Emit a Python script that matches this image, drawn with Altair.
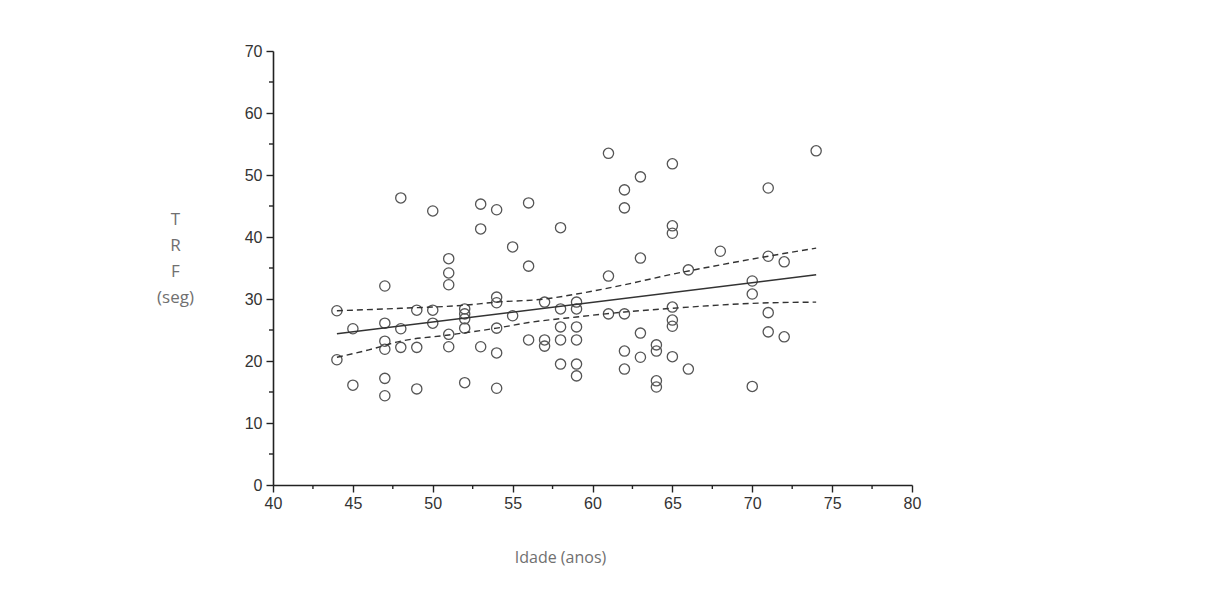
import altair as alt
import pandas as pd

# Scatter data
idade = [48, 47, 44, 45, 47, 48, 47, 47, 48, 44, 45, 47, 47,
         50, 53, 54, 56, 53, 58, 55, 51, 51, 56, 51, 54, 54,
         49, 50, 52, 52, 52, 52, 50, 51, 54, 55, 57, 58, 59, 59,
         49, 51, 53, 54, 56, 57, 57, 58, 59, 58, 59, 58, 59, 59,
         49, 52, 54,
         61, 65, 63, 62, 62, 74, 71, 65, 65, 63, 68, 71, 72, 66, 61,
         70, 70, 61, 62, 65, 65, 65, 71, 63, 71, 72, 62, 63, 64, 64,
         65, 62, 66, 64, 64, 70]
trf = [46.3, 32.1, 28.1, 25.2, 26.1, 25.2, 23.2, 21.9, 22.2, 20.2, 16.1, 17.2, 14.4,
       44.2, 45.3, 44.4, 45.5, 41.3, 41.5, 38.4, 36.5, 34.2, 35.3, 32.3, 30.3, 29.4,
       28.2, 28.2, 28.4, 27.6, 26.8, 25.3, 26.1, 24.3, 25.3, 27.3, 29.5, 28.4, 29.5, 28.4,
       22.2, 22.3, 22.3, 21.3, 23.4, 23.4, 22.4, 23.4, 23.4, 25.5, 25.5, 19.5, 19.5, 17.6,
       15.5, 16.5, 15.6,
       53.5, 51.8, 49.7, 47.6, 44.7, 53.9, 47.9, 41.8, 40.6, 36.6, 37.7, 36.9, 36.0, 34.7, 33.7,
       32.9, 30.8, 27.6, 27.6, 28.7, 26.6, 25.6, 27.8, 24.5, 24.7, 23.9, 21.6, 20.6, 22.6, 21.6,
       20.7, 18.7, 18.7, 16.8, 15.8, 15.9]

# Regression line (end points)
fit_x = [44, 74]
fit_y = [24.4, 33.9]

# Confidence band curves
upper_x = [44, 48, 52, 54, 57, 59, 62, 65, 68, 71, 74]
upper_y = [28.1, 28.5, 29.0, 29.5, 30.0, 30.8, 32.3, 34.0, 35.5, 36.9, 38.2]
lower_x = [44, 46, 48, 51, 54, 56, 59, 62, 65, 70, 74]
lower_y = [20.6, 21.8, 23.2, 24.2, 25.3, 26.2, 27.1, 27.9, 28.5, 29.3, 29.5]

x_major = [40, 45, 50, 55, 60, 65, 70, 75, 80]
x_minor = [42.5, 47.5, 52.5, 57.5, 62.5, 67.5, 72.5, 77.5]
y_major = [0, 10, 20, 30, 40, 50, 60, 70]
y_minor = [5, 15, 25, 35, 45, 55, 65]

W, H = 639, 434

pts = pd.DataFrame({"idade": idade, "trf": trf})
fit = pd.DataFrame({"idade": fit_x, "trf": fit_y})
up = pd.DataFrame({"idade": upper_x, "trf": upper_y})
lo = pd.DataFrame({"idade": lower_x, "trf": lower_y})
xm = pd.DataFrame({"idade": x_minor})
ym = pd.DataFrame({"trf": y_minor})

label_font = "Liberation Sans"
title_font = "Open Sans"
ink = "#222222"

x_scale = alt.Scale(domain=[40, 80], nice=False, zero=False)
y_scale = alt.Scale(domain=[0, 70], nice=False)

x_enc = alt.X(
    "idade:Q",
    scale=x_scale,
    axis=alt.Axis(
        values=x_major, tickSize=7, labelFlush=False,
        title="Idade (anos)",
        titleX=287, titleY=72, titleBaseline="middle",
        titleFont=title_font, titleFontSize=16, titleFontWeight="normal",
        titleColor="#707070",
        labelFont=label_font, labelFontSize=16, labelColor="#333333",
        labelPadding=3, grid=False,
        domainColor=ink, domainWidth=1.6, tickColor=ink, tickWidth=1.4,
    ),
)
y_enc = alt.Y(
    "trf:Q",
    scale=y_scale,
    axis=alt.Axis(
        values=y_major, tickSize=7, labelFlush=False,
        title=["T", "R", "F", "(seg)"],
        titleAngle=0, titleX=-98, titleY=160, titleAlign="center", titleBaseline="top",
        titleLineHeight=26,
        titleFont=title_font, titleFontSize=17, titleFontWeight="normal",
        titleColor="#707070",
        labelFont=label_font, labelFontSize=16, labelColor="#333333",
        labelPadding=4, grid=False,
        domainColor=ink, domainWidth=1.6, tickColor=ink, tickWidth=1.4,
    ),
)

points = alt.Chart(pts).mark_point(
    shape="circle", filled=False, size=105, stroke="#555555", strokeWidth=1.3, opacity=1
).encode(x=x_enc, y=y_enc)

fit_line = alt.Chart(fit).mark_line(color="#333333", strokeWidth=1.5).encode(
    x="idade:Q", y="trf:Q"
)
upper_line = alt.Chart(up).mark_line(
    color="#333333", strokeWidth=1.4, strokeDash=[6, 4], interpolate="monotone"
).encode(x="idade:Q", y="trf:Q")
lower_line = alt.Chart(lo).mark_line(
    color="#333333", strokeWidth=1.4, strokeDash=[6, 4], interpolate="monotone"
).encode(x="idade:Q", y="trf:Q")

# minor ticks (outside the plot, through the shared scales)
x_minor_ticks = alt.Chart(xm).mark_rule(color=ink, strokeWidth=1.4).encode(
    x="idade:Q", y=alt.value(H), y2=alt.value(H + 4)
)
y_minor_ticks = alt.Chart(ym).mark_rule(color=ink, strokeWidth=1.4).encode(
    y="trf:Q", x=alt.value(0), x2=alt.value(-4)
)

chart = (
    alt.layer(points, fit_line, upper_line, lower_line, x_minor_ticks, y_minor_ticks)
    .properties(
        width=W,
        height=H,
        autosize=alt.AutoSizeParams(type="none"),
        padding={"left": 265, "top": 43, "right": 40, "bottom": 110},
        background="#ffffff",
    )
    .configure_view(stroke=None)
)

chart.save("out.html", embed_options={"renderer": "svg", "actions": False})
